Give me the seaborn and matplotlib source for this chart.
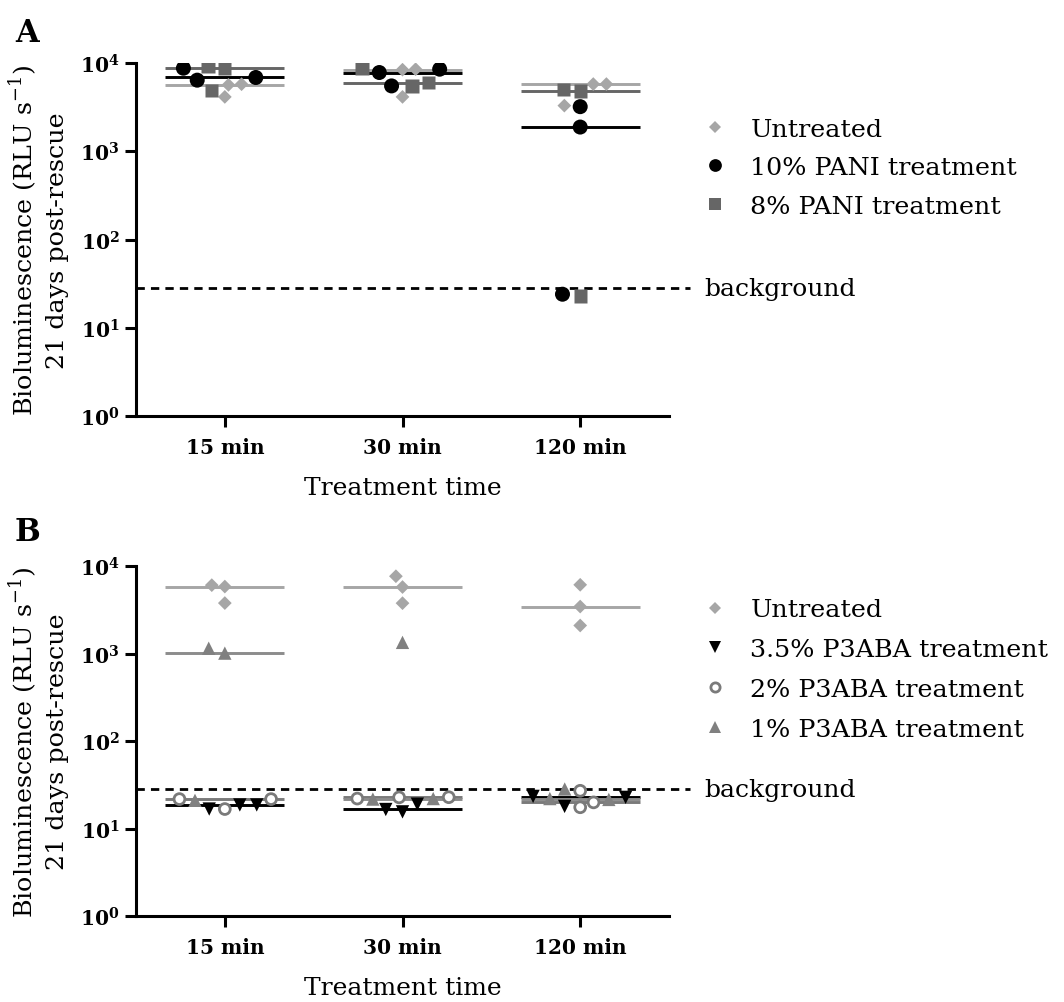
import numpy as np
import pandas as pd
import seaborn as sns
import matplotlib.pyplot as plt
from matplotlib.lines import Line2D
from matplotlib.markers import MarkerStyle
from matplotlib.ticker import FixedLocator, FuncFormatter, NullLocator
from matplotlib.transforms import blended_transform_factory

# data (RLU s^-1, 21 days post-rescue)
times = ['15 min', '30 min', '120 min']
background = 28

groups_a = ['Untreated', '10% PANI treatment', '8% PANI treatment']
untreated_a = [[5650, 4130, 5750], [8500, 4130, 8400], [5770, 3290, 5770]]
pani10_a = [[6390, 8730, 6850], [8510, 5500, 7800], [3200, 1880, 24]]
pani8_a = [[8730, 9270, 4920], [5500, 6010, 8790], [4800, 5010, 23]]

groups_b = ['Untreated ', '3.5% P3ABA treatment', '2% P3ABA treatment', '1% P3ABA treatment']
untreated_b = [[6040, 3770, 5820], [7640, 3760, 5750], [6100, 3440, 2090]]
p3aba35_b = [[18.6, 16.7, 18.6], [19, 15.5, 16.5], [22.7, 17.9, 23.3]]
p3aba2_b = [[21.7, 16.7, 21.7], [22, 22.7, 22.8], [17.5, 19.9, 27]]
p3aba1_b = [[1150, 1010, 21], [1340, 21.7, 22], [28.3, 22, 21.5]]

# marker / colour per group (edge None = filled marker without outline)
styles = {
    'Untreated': dict(marker='D', size=7.0, face='#a6a6a6', edge=None, line='#a6a6a6'),
    '10% PANI treatment': dict(marker='o', size=10.8, face='black', edge=None, line='black'),
    '8% PANI treatment': dict(marker='s', size=9.6, face='#666666', edge=None, line='#666666'),
    'Untreated ': dict(marker='D', size=7.0, face='#a6a6a6', edge=None, line='#a6a6a6'),
    '3.5% P3ABA treatment': dict(marker='v', size=9.6, face='black', edge=None, line='black'),
    '2% P3ABA treatment': dict(marker='o', size=7.8, face='white', edge='#7a7a7a', line='#7a7a7a'),
    '1% P3ABA treatment': dict(marker='^', size=9.6, face='#808080', edge=None, line='#8c8c8c'),
}
EDGE_LW = 2.0

sns.set_style('ticks')
plt.rcParams['font.family'] = ['DejaVu Serif']
plt.rcParams['mathtext.fontset'] = 'custom'
plt.rcParams['mathtext.rm'] = 'DejaVu Serif'
plt.rcParams['mathtext.bf'] = 'DejaVu Serif:bold'
for key in ['text.color', 'axes.labelcolor', 'xtick.color', 'ytick.color', 'axes.edgecolor']:
    plt.rcParams[key] = 'black'


def long_table(groups, series):
    rows = []
    for g, vals in zip(groups, series):
        for t, reps in zip(times, vals):
            for v in reps:
                rows.append((t, g, v))
    return pd.DataFrame(rows, columns=['time', 'group', 'value'])


def marker_path(m):
    ms = MarkerStyle(m)
    return ms.get_path().transformed(ms.get_transform())


def draw_panel(ax, groups, series):
    df = long_table(groups, series)
    n0 = len(ax.collections)
    sns.swarmplot(data=df, x='time', y='value', hue='group', order=times, hue_order=groups,
                  palette={g: styles[g]['face'] for g in groups}, size=10, linewidth=EDGE_LW,
                  log_scale=True, legend=False, ax=ax)
    # one swarm per time point; give each point its group's marker
    for coll, t in zip(ax.collections[n0:], times):
        st = [styles[g] for g in df.loc[df['time'] == t, 'group']]
        coll.set_paths([marker_path(s['marker']) for s in st])
        coll.set_sizes(np.array([s['size'] ** 2 for s in st]))
        coll.set_facecolors([s['face'] for s in st])
        coll.set_edgecolors([s['edge'] if s['edge'] else (0, 0, 0, 0) for s in st])
        coll.set_linewidth(EDGE_LW)
        coll.set_zorder(3)

    med = df.groupby(['time', 'group'], sort=False)['value'].median()
    for i, t in enumerate(times):
        for g in groups:
            ax.hlines(med[(t, g)], i - 0.335, i + 0.335, color=styles[g]['line'], lw=2.1, zorder=2)

    ax.axhline(background, xmin=0, xmax=1.04, color='black', lw=2.0, ls=(0, (3, 2.2)),
               clip_on=False, zorder=2.5)
    tr = blended_transform_factory(ax.transAxes, ax.transData)
    ax.text(1.067, background, 'background', transform=tr, ha='left', va='center', fontsize=18)

    ax.set_xlim(-0.5, 2.5)
    ax.set_ylim(1, 1e4)
    ax.yaxis.set_major_locator(FixedLocator([1, 10, 100, 1000, 10000]))
    ax.yaxis.set_minor_locator(NullLocator())
    ax.yaxis.set_major_formatter(FuncFormatter(lambda v, p: r'$\mathbf{10^{%d}}$' % round(np.log10(v))))
    ax.set_xlabel('Treatment time', fontsize=18, labelpad=14)
    ax.set_ylabel('Bioluminescence (RLU s$^{-1}$)\n21 days post-rescue', fontsize=18.3,
                  labelpad=8, linespacing=1.3)
    for lab in ax.get_xticklabels():
        lab.set_fontweight('bold')
    ax.tick_params(axis='x', labelsize=14.5, width=2.2, length=8, pad=7)
    ax.tick_params(axis='y', labelsize=14.5, width=2.2, length=8, pad=4)
    sns.despine(ax=ax)
    for sp in ['left', 'bottom']:
        ax.spines[sp].set_linewidth(2.2)

    handles = [Line2D([], [], ls='none', marker=styles[g]['marker'],
                      markersize=styles[g]['size'] * 0.85,
                      markerfacecolor=styles[g]['face'],
                      markeredgecolor=styles[g]['edge'] or styles[g]['face'],
                      markeredgewidth=EDGE_LW if styles[g]['edge'] else 0) for g in groups]
    return handles


fig = plt.figure(figsize=(10.64, 10.03), dpi=100)
ax_a = fig.add_axes([0.1278, 0.5842, 0.501, 0.352])
ax_b = fig.add_axes([0.1278, 0.0857, 0.501, 0.349])

h_a = draw_panel(ax_a, groups_a, [untreated_a, pani10_a, pani8_a])
h_b = draw_panel(ax_b, groups_b, [untreated_b, p3aba35_b, p3aba2_b, p3aba1_b])

ax_a.legend(h_a, [g.strip() for g in groups_a], loc='upper left', bbox_to_anchor=(0.649, 0.894),
            bbox_transform=fig.transFigure, frameon=False, fontsize=18.3, borderpad=0,
            handlelength=0.9, handletextpad=0.95, labelspacing=0.6)
ax_b.legend(h_b, [g.strip() for g in groups_b], loc='upper left', bbox_to_anchor=(0.649, 0.415),
            bbox_transform=fig.transFigure, frameon=False, fontsize=18.3, borderpad=0,
            handlelength=0.9, handletextpad=0.95, labelspacing=0.66)

fig.text(0.014, 0.982, 'A', fontsize=22, fontweight='bold', va='top')
fig.text(0.014, 0.485, 'B', fontsize=22, fontweight='bold', va='top')

fig.savefig('out.png', dpi=100)
